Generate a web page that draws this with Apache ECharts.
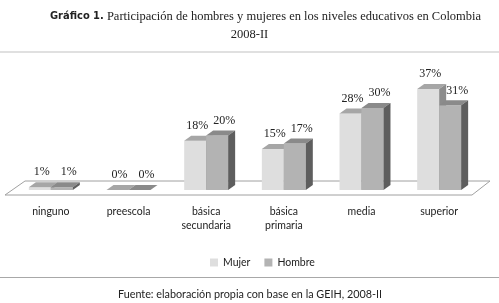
<!DOCTYPE html>
<html>
<head>
<meta charset="utf-8">
<script src="https://cdn.jsdelivr.net/npm/echarts@6/dist/echarts.min.js"></script>
<style>
html,body{margin:0;padding:0;background:#fff;}
#chart{width:499px;height:303px;}
</style>
</head>
<body>
<div id="chart"></div>
<script>
// datos del gráfico
var categorias = ['ninguno', 'preescola', 'básica\nsecundaria', 'básica\nprimaria', 'media', 'superior'];
var mujer = [1, 0, 18, 15, 28, 37];
var hombre = [1, 0, 20, 17, 30, 31];
var nombres = ['Mujer', 'Hombre'];

// colores: frente, arriba, lado
var colMujer = ['#dedede', '#a6a6a6', '#8c8c8c'];
var colHombre = ['#b3b3b3', '#8a8a8a', '#5e5e5e'];

var DX = 7, DY = -5;//profundidad 3D

function barra3d(lado, cols, desp){
    return function(params, api){
        var cat = api.value(0);
        var val = api.value(1);
        var base = api.coord([cat, 0]);
        var tope = api.coord([cat, val]);
        var w = api.size([1, 0])[0] * 0.283;
        var x0 = base[0] + lado * w;
        var x1 = x0 + w;
        var yb = base[1], yt = tope[1];
        return {
            type: 'group',
            children: [
                {type: 'rect', shape: {x: x0, y: yt, width: w, height: yb - yt}, style: {fill: cols[0]}},
                {type: 'polygon', shape: {points: [[x0, yt], [x1, yt], [x1 + DX, yt + DY], [x0 + DX, yt + DY]]}, style: {fill: cols[1]}},
                {type: 'polygon', shape: {points: [[x1, yt], [x1 + DX, yt + DY], [x1 + DX, yb + DY], [x1, yb]]}, style: {fill: cols[2]}},
                {type: 'text', x: (x0 + x1) / 2 + desp, y: yt - 15, style: {
                    text: val + '%', fill: '#222', font: '12px "Liberation Serif"', align: 'center', verticalAlign: 'middle'
                }}
            ]
        };
    };
}

// piso del gráfico
function piso(params, api){
    var cs = params.coordSys;
    var y0 = api.coord([0, 0])[1];
    var yf = y0 + 5, yt = y0 - 9;
    return {
        type: 'polygon',
        shape: {points: [[cs.x - 7, yf], [cs.x + cs.width - 6, yf], [cs.x + cs.width + 12, yt], [cs.x + 13, yt]]},
        style: {fill: '#fff', stroke: '#a0a0a0', lineWidth: 1}
    };
}

var myChart = echarts.init(document.getElementById('chart'));
var option = {
    animation: false,
    title: [{
        text: '{b|Gráfico 1.} Participación de hombres y mujeres en los niveles educativos en Colombia',
        left: 45, top: 5,
        textStyle: {
            fontFamily: 'Liberation Serif', fontSize: 12.5, fontWeight: 'normal', color: '#222',
            rich: {b: {fontFamily: 'DejaVu Sans Condensed', fontWeight: 'bold', fontSize: 11, color: '#222'}}
        }
    }, {
        text: '2008-II',
        left: 'center', top: 23,
        textStyle: {fontFamily: 'Liberation Serif', fontSize: 12.5, fontWeight: 'normal', color: '#222'}
    }],
    legend: {
        data: nombres,
        top: 252, left: 205,
        itemWidth: 8, itemHeight: 8, itemGap: 14,
        icon: 'rect',
        textStyle: {fontFamily: 'Lato', fontSize: 10.5, color: '#222'}
    },
    grid: {left: 12, right: 21, top: 80.8, bottom: 113},
    xAxis: {
        type: 'category',
        data: categorias,
        axisLine: {show: false},
        axisTick: {show: false},
        axisLabel: {margin: 15, fontFamily: 'Lato', fontSize: 10.5, color: '#222', lineHeight: 14, interval: 0}
    },
    yAxis: {type: 'value', min: 0, max: 40, show: false, splitLine: {show: false}},
    graphic: [
        {type: 'line', shape: {x1: 0, y1: 52, x2: 499, y2: 52}, style: {stroke: '#e0e0e0', lineWidth: 2}},
        {type: 'line', shape: {x1: 0, y1: 277.5, x2: 499, y2: 277.5}, style: {stroke: '#a8a8a8', lineWidth: 1}},
        {type: 'text', x: 250, y: 295, style: {
            text: 'Fuente: elaboración propia con base en la GEIH, 2008-II',
            fill: '#222', font: '10.8px Lato', align: 'center', verticalAlign: 'middle'
        }}
    ],
    series: [
        {type: 'custom', name: 'piso', data: [[0, 0]], renderItem: piso, silent: true, z: 1},
        {type: 'custom', name: nombres[0], itemStyle: {color: colMujer[0]}, clip: false, z: 2,
         data: mujer.map(function(v, i){ return [i, v]; }), renderItem: barra3d(-1, colMujer, 2)},
        {type: 'custom', name: nombres[1], itemStyle: {color: colHombre[0]}, clip: false, z: 3,
         data: hombre.map(function(v, i){ return [i, v]; }), renderItem: barra3d(0, colHombre, 7)}
    ]
};
myChart.setOption(option);
</script>
</body>
</html>
